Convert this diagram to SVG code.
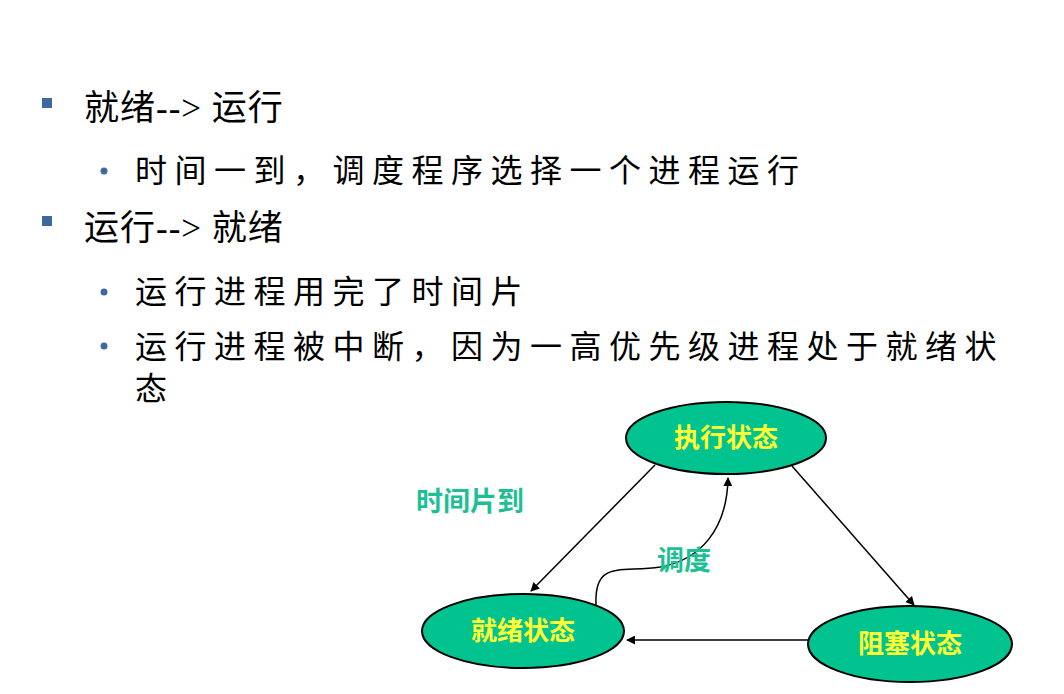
<svg xmlns="http://www.w3.org/2000/svg" width="1064" height="694" viewBox="0 0 1064 694">
<style>
.t{font-family:"Liberation Serif","Noto Sans CJK SC",serif;fill:#000}
.h{font-size:35px;letter-spacing:1px}.s{font-size:32px;letter-spacing:7.5px}
.n{fill:#00c38f;stroke:#000;stroke-width:2}
.nl{font-family:"Noto Sans CJK SC",sans-serif;font-size:26px;font-weight:bold;fill:#ffff33;text-anchor:middle}
.lb{font-family:"Noto Sans CJK SC",sans-serif;font-size:27px;font-weight:bold;fill:#1fbf95}
.c{stroke:#000;stroke-width:1.5;fill:none;marker-end:url(#a)}
</style>
<defs><marker id="a" viewBox="0 0 10 10" refX="9" refY="5" markerWidth="9" markerHeight="9" orient="auto" markerUnits="userSpaceOnUse"><path d="M0,0 L10,5 L0,10 z" fill="#000"/></marker></defs>
<rect width="1064" height="694" fill="#fff"/>
<g id="text">
<rect x="42" y="98" width="10" height="10" fill="#3c6a9e"/>
<text class="t h" x="84" y="120">就绪--&gt; 运行</text>
<circle cx="104" cy="171" r="3.5" fill="#3c6a9e"/>
<text class="t s" x="135" y="182">时间一到，调度程序选择一个进程运行</text>
<rect x="42" y="216" width="10" height="10" fill="#3c6a9e"/>
<text class="t h" x="84" y="240">运行--&gt; 就绪</text>
<circle cx="104" cy="292" r="3.5" fill="#3c6a9e"/>
<text class="t s" x="135" y="303">运行进程用完了时间片</text>
<circle cx="104" cy="346" r="3.5" fill="#3c6a9e"/>
<text class="t s" x="135" y="358">运行进程被中断，因为一高优先级进程处于就绪状</text>
<text class="t s" x="135" y="400">态</text>
</g>
<g id="connectors">
<line class="c" x1="655" y1="465" x2="531" y2="591"/>
<line class="c" x1="792" y1="466" x2="914" y2="605"/>
<line class="c" x1="808" y1="640" x2="627" y2="640"/>
<path class="c" d="M596,605 C594,560 620,573 660,567 C700,560 727,530 728,478"/>
<text class="lb" x="416" y="511">时间片到</text>
<text class="lb" x="657" y="570">调度</text>
</g>
<g id="exec"><ellipse class="n" cx="726" cy="438" rx="100" ry="36"/><text class="nl" x="726" y="447">执行状态</text></g>
<g id="ready"><ellipse class="n" cx="523" cy="631" rx="101" ry="37"/><text class="nl" x="523" y="640">就绪状态</text></g>
<g id="blocked"><ellipse class="n" cx="910" cy="644" rx="102" ry="38"/><text class="nl" x="910" y="653">阻塞状态</text></g>
</svg>
